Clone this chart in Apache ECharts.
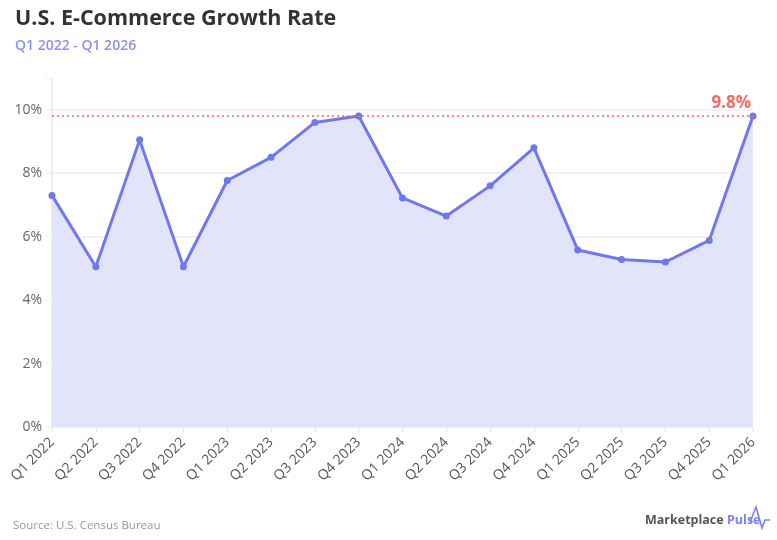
<!DOCTYPE html>
<html>
<head>
<meta charset="utf-8">
<script src="https://cdn.jsdelivr.net/npm/echarts@6/dist/echarts.min.js"></script>
<style>
  html, body { margin: 0; padding: 0; background: #fff; }
  #chart { width: 777px; height: 540px; }
</style>
</head>
<body>
<div id="chart"></div>
<script>
  // quarters and growth rate (%)
  var quarters = ['Q1 2022', 'Q2 2022', 'Q3 2022', 'Q4 2022',
                  'Q1 2023', 'Q2 2023', 'Q3 2023', 'Q4 2023',
                  'Q1 2024', 'Q2 2024', 'Q3 2024', 'Q4 2024',
                  'Q1 2025', 'Q2 2025', 'Q3 2025', 'Q4 2025',
                  'Q1 2026'];
  var growth = [7.3, 5.05, 9.05, 5.05,
                7.77, 8.5, 9.6, 9.8,
                7.22, 6.65, 7.6, 8.8,
                5.58, 5.28, 5.2, 5.88,
                9.8];
  var latest = 9.8;
  var yTicks = [0, 2, 4, 6, 8, 10];

  var font = 'Open Sans';
  var chart = echarts.init(document.getElementById('chart'));
  chart.setOption({
    backgroundColor: '#fff',
    animation: false,
    title: {
      text: 'U.S. E-Commerce Growth Rate',
      subtext: 'Q1 2022 - Q1 2026',
      left: 10,
      top: 3,
      itemGap: 9,
      textStyle: { fontFamily: font, fontSize: 21.5, fontWeight: 'bold', color: '#333' },
      subtextStyle: { fontFamily: font, fontSize: 14, fontWeight: 600, color: '#8a92f1' }
    },
    grid: { left: 52, right: 24, top: 78, bottom: 113, containLabel: false },
    xAxis: {
      type: 'category',
      data: quarters,
      boundaryGap: false,
      axisLine: { show: true, lineStyle: { color: '#eeeeee', width: 1 } },
      axisTick: { show: true, length: 5, lineStyle: { color: '#e6e6e6' } },
      axisLabel: { rotate: 45, fontFamily: font, fontSize: 14, color: '#555', margin: 13, interval: 0 },
      splitLine: { show: false }
    },
    yAxis: {
      type: 'value',
      min: 0,
      max: 11,
      interval: 2,
      axisLine: { show: true, lineStyle: { color: '#eeeeee', width: 2 } },
      axisTick: { show: true, length: 6, lineStyle: { color: '#eeeeee' } },
      axisLabel: {
        fontFamily: font, fontSize: 14, color: '#666', margin: 10,
        formatter: function (v) { return yTicks.indexOf(v) >= 0 ? v + '%' : ''; }
      },
      splitLine: {
        show: true,
        lineStyle: { color: ['#eeeeee', '#eeeeee', '#eeeeee', '#eeeeee', '#eeeeee', '#eeeeee', 'rgba(0,0,0,0)'], width: 1.5 }
      }
    },
    series: [{
      type: 'line',
      data: growth,
      symbol: 'circle',
      symbolSize: 7,
      lineStyle: { color: '#6f78ec', width: 3 },
      itemStyle: { color: '#6f78ec' },
      areaStyle: { color: '#e2e4f9', opacity: 1 },
      markLine: {
        silent: true,
        symbol: 'none',
        data: [{ yAxis: latest }],
        lineStyle: { color: '#f26565', type: [2, 3], width: 1.5 },
        label: {
          position: 'insideEndTop',
          formatter: latest + '%',
          fontFamily: font, fontSize: 17, fontWeight: 'bold', color: '#f26b6b',
          distance: [2, 4]
        }
      }
    }],
    graphic: [
      {
        type: 'text', left: 13, top: 520,
        style: { text: 'Source: U.S. Census Bureau', fontFamily: font, fontSize: 11.5, fill: '#999' }
      },
      {
        type: 'text', left: 645, top: 514,
        style: {
          text: '{a|Marketplace} {b|Pulse}',
          rich: {
            a: { fontFamily: font, fontSize: 12.5, fontWeight: 'bold', fill: '#555' },
            b: { fontFamily: font, fontSize: 12.5, fontWeight: 'bold', fill: '#7b83f0' }
          }
        }
      },
      {
        type: 'polyline',
        shape: { points: [[750, 522], [756, 507], [762, 528], [765, 520], [770, 520]] },
        style: { stroke: '#7b83f0', lineWidth: 1.6, fill: null }
      }
    ]
  });
</script>
</body>
</html>
